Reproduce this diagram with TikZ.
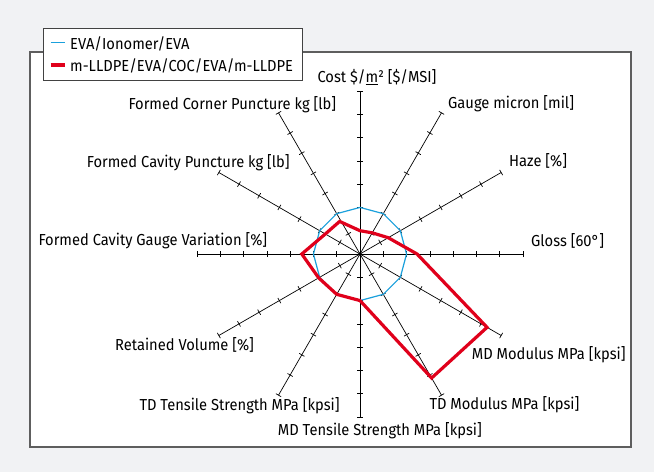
\documentclass[tikz,border=0pt]{standalone}
\usepackage{fontspec}
\setmainfont{Fira Sans}[FakeStretch=0.925]
\begin{document}
\begin{tikzpicture}[x=1pt,y=-1pt,
  lbl/.style={anchor=base west,inner sep=0pt,font=\fontsize{15.9}{17}\selectfont},
  axisline/.style={black,line width=0.7pt},
  tickline/.style={black,line width=0.7pt},
  bluepoly/.style={draw=cyanblue,line width=1.2pt,line join=miter},
  redpoly/.style={draw=redline,line width=3.2pt,line join=miter},
]
\definecolor{bggray}{HTML}{F1F2F4}
\definecolor{cyanblue}{HTML}{1AA0DC}
\definecolor{redline}{HTML}{E0001B}
\definecolor{framegray}{HTML}{5E5E5E}
\useasboundingbox (0,0) rectangle (654,472);
\fill[bggray] (0,0) rectangle (654,472);
\draw[framegray,fill=white,line width=1.1pt] (30,52) rectangle (631,447);

\begin{scope}[shift={(360,254)},yscale=-1]
  \def\R{163}
  \pgfmathsetmacro{\d}{\R/7}
  \coordinate (O) at (0,0);
  \foreach \a in {0,30,...,330}{
    \coordinate (ax\a) at (\a:\R);
    \draw[axisline] (O) -- (ax\a);
    \foreach \i in {1,...,7}{
      \draw[tickline,rotate=\a] (\i*\d,-3) -- (\i*\d,3);
    }
  }
  % blue polygon (value 2 on every axis)
  \foreach \a in {0,30,...,330}{ \coordinate (b\a) at (\a:2*\d); }
  \draw[bluepoly] (b0)--(b30)--(b60)--(b90)--(b120)--(b150)--(b180)--(b210)--(b240)--(b270)--(b300)--(b330)--cycle;
  % red polygon
  \coordinate (r0) at (0:2.45*\d);
  \coordinate (r30) at (30:1.4*\d);
  \coordinate (r60) at (60:1.05*\d);
  \coordinate (r90) at (90:1.0*\d);
  \coordinate (r120) at (122:1.65*\d);
  \coordinate (r150) at (150:1.72*\d);
  \coordinate (r180) at (180:2.5*\d);
  \coordinate (r210) at (210:2.05*\d);
  \coordinate (r240) at (240:2.0*\d);
  \coordinate (r270) at (270:2.0*\d);
  \coordinate (r300) at (300:6.15*\d);
  \coordinate (r330) at (330:6.3*\d);
  \draw[redpoly] (r0)--(r30)--(r60)--(r90)--(r120)--(r150)--(r180)--(r210)--(r240)--(r270)--(r300)--(r330)--cycle;
  \fill[black] (O) circle (1.8);
\end{scope}

% axis labels
\node[lbl] (lcost) at (317.3,82.7) {Cost \$/\underline{m}² [\$/MSI]};
\node[lbl] (lgauge) at (448,108.3) {Gauge micron [mil]};
\node[lbl] (lhaze) at (509,166) {Haze [\%]};
\node[lbl] (lgloss) at (531,246.7) {Gloss [60°]};
\node[lbl] (lmdmod) at (471.7,359) {MD Modulus MPa [kpsi]};
\node[lbl] (ltdmod) at (429.3,409.3) {TD Modulus MPa [kpsi]};
\node[lbl] (lmdts) at (277.7,435) {MD Tensile Strength MPa [kpsi]};
\node[lbl] (ltdts) at (139.3,410) {TD Tensile Strength MPa [kpsi]};
\node[lbl] (lrv) at (115,350) {Retained Volume [\%]};
\node[lbl] (lfcgv) at (38.3,245) {Formed Cavity Gauge Variation [\%]};
\node[lbl] (lfcp) at (86.7,167.7) {Formed Cavity Puncture kg [lb]};
\node[lbl] (lfcorp) at (128.3,109) {Formed Corner Puncture kg [lb]};

% legend
\draw[framegray!70!black,fill=white,line width=0.8pt] (43.3,28.3) rectangle (302.7,80);
\coordinate (lb1) at (50.7,42.7);
\coordinate (lb2) at (65,42.7);
\draw[cyanblue,line width=1.2pt] (lb1) -- (lb2);
\coordinate (lr1) at (50.7,65);
\coordinate (lr2) at (65,65);
\draw[redline,line width=3.2pt] (lr1) -- (lr2);
\node[lbl] (leg1) at (70,49) {EVA/Ionomer/EVA};
\node[lbl] (leg2) at (70,71.5) {m-LLDPE/EVA/COC/EVA/m-LLDPE};
\end{tikzpicture}
\end{document}
